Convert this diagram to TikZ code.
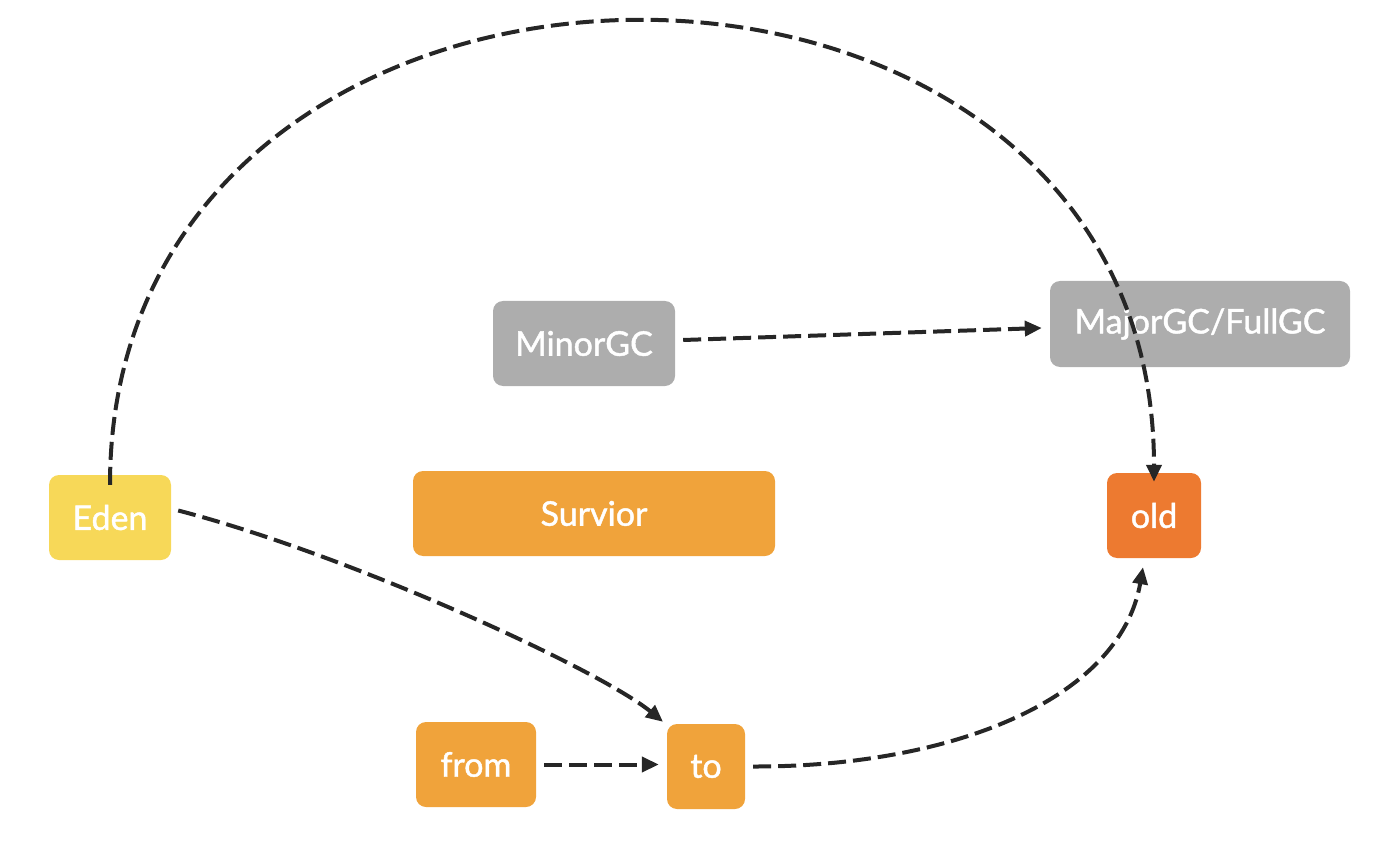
\documentclass[tikz,border=0pt]{standalone}
\usepackage{fontspec}
\setmainfont{Lato}
\newfontfamily\boxfont{Lato}[FakeBold=1.3]
\usetikzlibrary{arrows.meta}
\definecolor{edenc}{HTML}{F7D858}
\definecolor{orc}{HTML}{F0A33B}
\definecolor{oldc}{HTML}{ED7A30}
\definecolor{grayc}{HTML}{ADADAD}
\definecolor{linec}{HTML}{262626}
\tikzset{
  box/.style={rounded corners=10pt, inner sep=0pt, text=white, font=\boxfont\fontsize{34}{40}\selectfont, draw=none},
  conn/.style={draw=linec, line width=4pt, dash pattern=on 18pt off 7pt, -{Triangle[length=17pt,width=15pt]}}
}
\begin{document}
\begin{tikzpicture}[x=1pt,y=-1pt]
\useasboundingbox (0,0) rectangle (1400,850);
\node[box, fill=edenc, minimum width=122pt, minimum height=85pt] (eden) at (110,517.5) {Eden};
\node[box, fill=orc, minimum width=362pt, minimum height=85pt] (surv) at (594,513.5) {Survior};
\node[box, fill=grayc, minimum width=182pt, minimum height=85pt] (minor) at (584,343.5) {MinorGC};
\node[box, fill=grayc, minimum width=300pt, minimum height=86pt] (major) at (1200,324) {MajorGC/FullGC};
\node[box, fill=oldc, minimum width=94pt, minimum height=85pt] (old) at (1154,515.5) {old};
\node[box, fill=orc, minimum width=120pt, minimum height=85pt] (from) at (476,764.5) {from};
\node[box, fill=orc, minimum width=78pt, minimum height=85pt] (to) at (706,766.5) {to};
\coordinate (edentop) at ([yshift=-10pt]eden.north);
\coordinate (oldtop) at ([yshift=-9pt]old.north);
\coordinate (fromend) at ([xshift=8pt]from.east);
\coordinate (toin) at ([xshift=-8pt]to.west |- fromend);
\draw[conn] (edentop) .. controls (110,-128) and (1154,-136) .. (oldtop);
\draw[conn] ([xshift=8pt,yshift=3.5pt]minor.east) -- ([xshift=-8pt,yshift=-4pt]major.west);
\draw[conn] ([xshift=7pt,yshift=7pt]eden.east) .. controls (350,555) and (600,670) .. ([xshift=-43pt,yshift=2pt]to.north);
\draw[conn] (fromend) -- (toin);
\draw[conn] ([xshift=8pt]to.east) .. controls (950,767) and (1120,700) .. ([xshift=-11pt,yshift=-9pt]old.south);
\end{tikzpicture}
\end{document}
